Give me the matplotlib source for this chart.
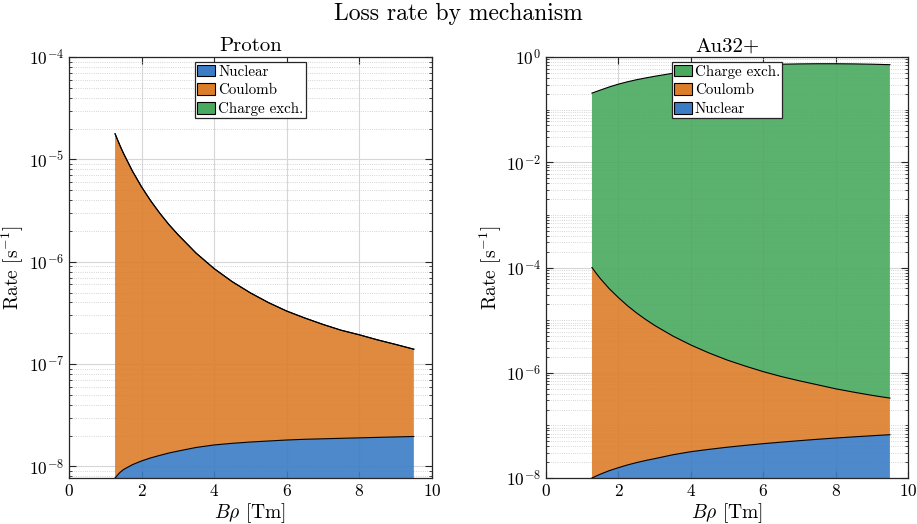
import matplotlib
matplotlib.use('Agg')
import matplotlib.pyplot as plt
import matplotlib.ticker as mticker
import numpy as np

plt.rcParams['font.family'] = 'serif'
plt.rcParams['font.serif'] = ['cmr10', 'DejaVu Serif']
plt.rcParams['mathtext.fontset'] = 'cm'
plt.rcParams['axes.formatter.use_mathtext'] = True

# B*rho values [Tm]
brho = [1.27, 1.4, 1.5, 1.75, 2.0, 2.25, 2.5, 2.75, 3.0, 3.5, 4.0, 4.5,
        5.0, 5.5, 6.0, 6.5, 7.0, 7.5, 8.0, 8.5, 9.0, 9.5]

# Proton loss rates [1/s]
p_nuclear = [7.7e-9, 8.7e-9, 9.3e-9, 1.04e-8, 1.13e-8, 1.21e-8, 1.28e-8,
             1.35e-8, 1.41e-8, 1.53e-8, 1.62e-8, 1.68e-8, 1.73e-8, 1.77e-8,
             1.81e-8, 1.84e-8, 1.86e-8, 1.88e-8, 1.90e-8, 1.92e-8, 1.94e-8,
             1.96e-8]
p_coulomb = [1.777e-5, 1.376e-5, 1.147e-5, 7.65e-6, 5.37e-6, 3.93e-6,
             2.97e-6, 2.30e-6, 1.83e-6, 1.20e-6, 8.39e-7, 6.20e-7, 4.78e-7,
             3.80e-7, 3.11e-7, 2.63e-7, 2.25e-7, 1.95e-7, 1.74e-7, 1.53e-7,
             1.36e-7, 1.20e-7]
p_chex = [1e-14] * len(brho)

# Au32+ loss rates [1/s]
au_nuclear = [1.0e-8, 1.1e-8, 1.18e-8, 1.38e-8, 1.57e-8, 1.77e-8, 1.96e-8,
              2.15e-8, 2.33e-8, 2.76e-8, 3.16e-8, 3.5e-8, 3.84e-8, 4.17e-8,
              4.49e-8, 4.8e-8, 5.12e-8, 5.44e-8, 5.75e-8, 6.05e-8, 6.35e-8,
              6.65e-8]
au_coulomb = [9.999e-5, 7.53e-5, 6.17e-5, 3.94e-5, 2.68e-5, 1.88e-5, 1.37e-5,
              1.03e-5, 7.92e-6, 4.98e-6, 3.34e-6, 2.345e-6, 1.71e-6, 1.30e-6,
              1.005e-6, 7.99e-7, 6.51e-7, 5.36e-7, 4.38e-7, 3.67e-7, 3.09e-7,
              2.63e-7]
au_chex = [0.206, 0.222, 0.235, 0.27, 0.305, 0.338, 0.37, 0.40, 0.43, 0.49,
           0.545, 0.595, 0.64, 0.68, 0.71, 0.73, 0.74, 0.745, 0.745, 0.74,
           0.73, 0.715]

labels = ['Nuclear', 'Coulomb', 'Charge exch.']
colors = ['#3b7cc6', '#dc7d2a', '#49a95e']


def stacked(ax, layers):
    x = np.array(brho)
    base = np.full(len(x), 1e-14)
    handles = []
    for vals, lab, col in zip(layers, labels, colors):
        top = base + np.array(vals)
        h = ax.fill_between(x, base, top, facecolor=col, alpha=0.9,
                            edgecolor='none', label=lab, zorder=2)
        ax.plot(x, top, color='black', lw=0.8, zorder=3)
        handles.append(h)
        base = top
    return handles


def style(ax, ylim, major_step):
    ax.set_yscale('log')
    ax.set_xlim(0, 10)
    ax.set_ylim(*ylim)
    ax.set_xticks([0, 2, 4, 6, 8, 10])
    lo = int(np.floor(np.log10(ylim[0])))
    hi = int(np.ceil(np.log10(ylim[1])))
    ax.yaxis.set_major_locator(mticker.FixedLocator(
        [10.0 ** k for k in range(hi, lo - 1, -major_step)]))
    ax.yaxis.set_minor_locator(mticker.LogLocator(base=10, subs=np.arange(1, 10), numticks=30))
    ax.yaxis.set_minor_formatter(mticker.NullFormatter())
    ax.tick_params(which='both', direction='in', top=True, right=True,
                   labelsize=12.5, color='#262626')
    ax.tick_params(which='major', length=5)
    ax.tick_params(which='minor', length=2.5)
    ax.grid(True, which='major', color='#d6d6d6', lw=0.8, ls='-')
    ax.grid(True, which='minor', axis='y', color='#c8c8c8', lw=0.6, ls=':')
    ax.set_axisbelow(True)
    for s in ax.spines.values():
        s.set_color('#262626')
        s.set_linewidth(0.9)
    ax.set_xlabel(r'$B\rho$ [Tm]', fontsize=14, labelpad=2)
    ax.set_ylabel(r'Rate [s$^{-1}$]', fontsize=14)
    ax.yaxis.set_label_coords(-0.117, 0.5)


fig = plt.figure(figsize=(9.17, 5.24), dpi=100)
ax1 = fig.add_axes([0.0752, 0.0878, 0.3959, 0.8034])
ax2 = fig.add_axes([0.5954, 0.0878, 0.3948, 0.8034])

leg_kw = dict(loc='upper center', fontsize=10.8, frameon=True, fancybox=False,
              edgecolor='#262626', framealpha=1, handlelength=1.2,
              handleheight=0.85, handletextpad=0.2, labelspacing=0.3,
              borderpad=0.15, borderaxespad=0.35)

h1 = stacked(ax1, [p_nuclear, p_coulomb, p_chex])
style(ax1, (7.7e-9, 1e-4), 1)
ax1.set_title('Proton', fontsize=15, pad=4)
leg1 = ax1.legend(handles=h1, **leg_kw)

h2 = stacked(ax2, [au_nuclear, au_coulomb, au_chex])
style(ax2, (1e-8, 1.0), 2)
ax2.set_title('Au32+', fontsize=15, pad=4)
leg2 = ax2.legend(handles=h2[::-1], **leg_kw)

for leg in (leg1, leg2):
    leg.get_frame().set_linewidth(0.9)
    for p in leg.get_patches():
        p.set_edgecolor('black')
        p.set_linewidth(0.8)
        p.set_alpha(1)

fig.suptitle('Loss rate by mechanism', fontsize=17, y=0.995)

fig.savefig('out.png', dpi=100)
